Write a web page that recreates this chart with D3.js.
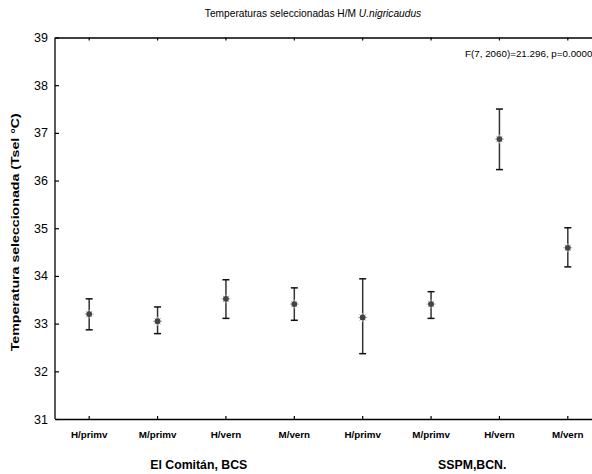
<!DOCTYPE html>
<html><head><meta charset="utf-8">
<script src="https://cdn.jsdelivr.net/npm/d3@7"></script>
<style>body{margin:0;background:#fff}svg{display:block}text{font-family:"Liberation Sans",Arial,sans-serif}</style>
</head><body>
<svg id="c" width="592" height="474"></svg>
<script>
const categories = ["H/primv","M/primv","H/vern","M/vern","H/primv","M/primv","H/vern","M/vern"];
const groups = ["El Comitán, BCS","SSPM,BCN."];
const groupOf = [0,0,0,0,1,1,1,1];
const means = [33.20,33.05,33.52,33.41,33.13,33.41,36.87,34.59];
const upper = [33.52,33.35,33.92,33.75,33.94,33.67,37.50,35.01];
const lower = [32.87,32.79,33.11,33.07,32.37,33.11,36.23,34.19];
const yTicks = [31,32,33,34,35,36,37,38,39];
const titleMain = "Temperaturas seleccionadas H/M ";
const titleItalic = "U.nigricaudus";
const statText = "F(7, 2060)=21.296, p=0.0000";
const yLabel = "Temperatura seleccionada (Tsel °C)";

const svg = d3.select("#c");
const L = 55, R = 602, T = 37.5, B = 419;
const idx = categories.map((d,i)=>i);
const x = d3.scaleBand().domain(idx).range([L,R]);
const y = d3.scaleLinear().domain([31,39]).range([B,T]);
const cx = i => x(i) + x.bandwidth()/2;

// title
const tt = svg.append("text").attr("x",313).attr("y",17).attr("text-anchor","middle")
  .attr("font-size",10.2).attr("fill","#000");
tt.append("tspan").text(titleMain);
tt.append("tspan").attr("font-style","italic").text(titleItalic);

// axes
const gl = svg.append("g").attr("transform",`translate(${L},0)`)
  .call(d3.axisLeft(y).tickValues(yTicks).tickSizeInner(-4).tickSizeOuter(0).tickPadding(7).tickFormat(d3.format("d")));
gl.selectAll("text").attr("font-size",12.5).attr("fill","#000").attr("font-family","Liberation Sans, Arial, sans-serif");
const gb = svg.append("g").attr("transform",`translate(0,${B})`)
  .call(d3.axisBottom(x).tickSizeInner(-3).tickSizeOuter(0).tickPadding(12).tickFormat(i=>categories[i]));
gb.selectAll("text").attr("font-size",9.8).attr("font-weight","bold").attr("fill","#000").attr("font-family","Liberation Sans, Arial, sans-serif");
const gt = svg.append("g").attr("transform",`translate(0,${T})`)
  .call(d3.axisTop(x).tickSizeInner(-3).tickSizeOuter(0).tickFormat(""));
svg.selectAll(".domain").attr("stroke","#000").attr("stroke-width",1.3);
svg.selectAll(".tick line").attr("stroke","#000").attr("stroke-width",1.2);
gl.select(".domain").attr("d",`M0,${T}V${B}`);

// y label
svg.append("text").attr("transform",`translate(19,${(T+B)/2+4}) rotate(-90)`)
  .attr("text-anchor","middle").attr("font-size",10).attr("font-weight","bold")
  .attr("textLength",238).attr("lengthAdjust","spacingAndGlyphs").text(yLabel);

// stat text
svg.append("text").attr("x",465).attr("y",57).attr("font-size",9.8).text(statText);

// group labels
groups.forEach((g,gi)=>{
  const ids = idx.filter(i=>groupOf[i]===gi);
  const mid = (cx(ids[0]) + cx(ids[ids.length-1]))/2 + 7;
  svg.append("text").attr("x",mid).attr("y",469).attr("text-anchor","middle")
    .attr("font-size",12.3).attr("font-weight","bold").text(g);
});

// error bars
const eb = svg.append("g");
idx.forEach(i=>{
  const xc = cx(i);
  eb.append("line").attr("x1",xc).attr("x2",xc).attr("y1",y(upper[i])).attr("y2",y(lower[i]))
    .attr("stroke","#333").attr("stroke-width",1.5);
  [upper[i],lower[i]].forEach(v=>{
    eb.append("line").attr("x1",xc-3.5).attr("x2",xc+3.5).attr("y1",y(v)).attr("y2",y(v))
      .attr("stroke","#111").attr("stroke-width",1.5);
  });
  const yc = y(means[i]);
  const g = eb.append("g").attr("transform",`translate(${xc},${yc})`);
  for(let k=0;k<4;k++){
    const a = k*Math.PI/4;
    g.append("line").attr("x1",-4.5*Math.cos(a)).attr("y1",-4.5*Math.sin(a))
      .attr("x2",4.5*Math.cos(a)).attr("y2",4.5*Math.sin(a)).attr("stroke","#aaa").attr("stroke-width",1);
  }
  g.append("circle").attr("r",2.9).attr("fill","#444");
});
</script>
</body></html>
